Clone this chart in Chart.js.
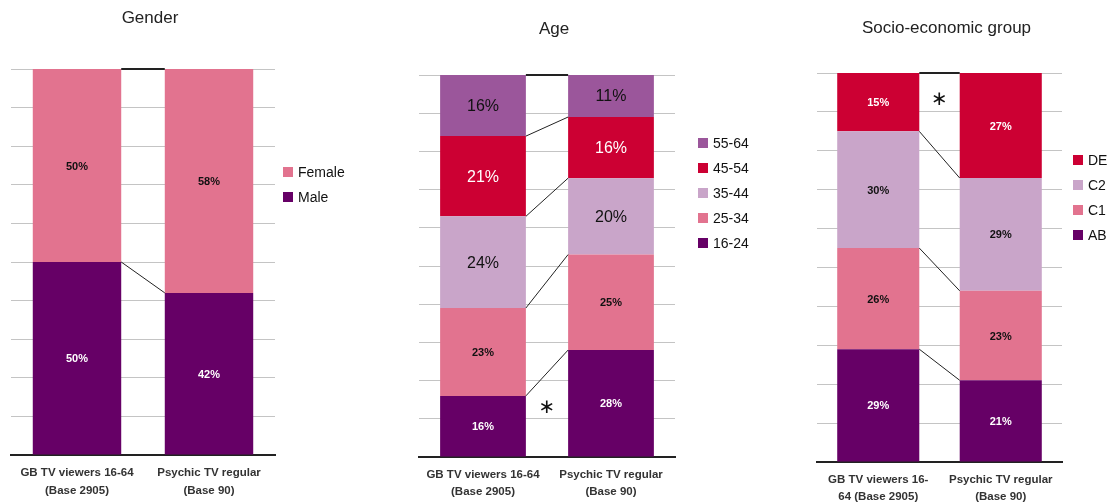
<!DOCTYPE html>
<html>
<head>
<meta charset="utf-8">
<script src="https://cdn.jsdelivr.net/npm/chart.js@4/dist/chart.umd.min.js"></script>
<style>
  body { margin: 0; background: #fff; width: 1113px; height: 504px; position: relative; overflow: hidden; }
  canvas { position: absolute; top: 0; }
</style>
</head>
<body>
<canvas id="genderChart" width="370" height="504" style="left:0"></canvas>
<canvas id="ageChart" width="380" height="504" style="left:370px"></canvas>
<canvas id="segChart" width="363" height="504" style="left:750px"></canvas>
<script>
// categories
const groups = [['GB TV viewers 16-64', '(Base 2905)'], ['Psychic TV regular', '(Base 90)']];
const groupsSeg = [['GB TV viewers 16-', '64 (Base 2905)'], ['Psychic TV regular', '(Base 90)']];

// series, bottom of the stack first
const genderLabels = ['Male', 'Female'];
const genderGB = [50, 50];
const genderPsychic = [42, 58];

const ageLabels = ['16-24', '25-34', '35-44', '45-54', '55-64'];
const ageGB = [16, 23, 24, 21, 16];
const agePsychic = [28, 25, 20, 16, 11];

const segLabels = ['AB', 'C1', 'C2', 'DE'];
const segGB = [29, 26, 30, 15];
const segPsychic = [21, 23, 29, 27];

// significance markers (value position between the two bars)
const ageStar = 13;
const segStar = 93;

const PURPLE = '#660066', PINK = '#e2738f', LILAC = '#c9a5c9', RED = '#cc0033', MAUVE = '#9b569b';
const SMALL = 'bold 11px "Liberation Sans", Arial, sans-serif';
const BIG = '16px "Liberation Sans", Arial, sans-serif';

function makeSets(labels, gb, psy, colors, txtColors, fonts) {
  return labels.map((l, i) => ({
    label: l,
    data: [gb[i], psy[i]],
    backgroundColor: colors[i],
    labelColor: txtColors[i],
    labelFont: fonts[i]
  }));
}

const extras = {
  id: 'extras',
  afterDatasetsDraw(chart, args, opts) {
    const ctx = chart.ctx;
    const sets = chart.data.datasets;
    const metas = sets.map((d, i) => chart.getDatasetMeta(i));
    ctx.save();
    // connectors between the two bars
    ctx.strokeStyle = '#222';
    metas.forEach((m, i) => {
      const a = m.data[0], b = m.data[1];
      ctx.lineWidth = i === metas.length - 1 ? 2 : 1;
      ctx.beginPath();
      ctx.moveTo(a.x + a.width / 2, a.y);
      ctx.lineTo(b.x - b.width / 2, b.y);
      ctx.stroke();
    });
    // value labels
    ctx.textAlign = 'center';
    ctx.textBaseline = 'middle';
    sets.forEach((ds, i) => {
      ctx.fillStyle = ds.labelColor;
      ctx.font = ds.labelFont;
      metas[i].data.forEach((el, j) => {
        ctx.fillText(ds.data[j] + '%', el.x, (el.y + el.base) / 2 + 1);
      });
    });
    // star
    if (opts.star != null) {
      const x = (chart.scales.x.getPixelForValue(0) + chart.scales.x.getPixelForValue(1)) / 2;
      ctx.fillStyle = '#111';
      ctx.font = '20px "DejaVu Sans", sans-serif';
      ctx.fillText('\u2217', x, chart.scales.y.getPixelForValue(opts.star));
    }
    // legend, top of the stack first
    ctx.textAlign = 'left';
    ctx.font = '14px "Liberation Sans", Arial, sans-serif';
    const order = sets.map((d, i) => i).reverse();
    order.forEach((i, k) => {
      const y = opts.legendY + k * 25;
      ctx.fillStyle = sets[i].backgroundColor;
      ctx.fillRect(opts.legendX, y - 5, 10, 10);
      ctx.fillStyle = '#111';
      ctx.fillText(sets[i].label, opts.legendX + 15, y + 1);
    });
    ctx.restore();
  }
};

function build(id, title, cats, datasets, pad, titlePad, axisH, tickPad, extraOpts) {
  new Chart(document.getElementById(id), {
    type: 'bar',
    data: { labels: cats, datasets: datasets },
    plugins: [extras],
    options: {
      responsive: false,
      animation: false,
      layout: { padding: pad },
      datasets: { bar: { barPercentage: 0.67, categoryPercentage: 1 } },
      scales: {
        x: {
          stacked: true,
          afterFit: s => { s.height = axisH; },
          grid: { display: false, drawTicks: false },
          border: { color: '#222', width: 2 },
          ticks: {
            color: '#333', padding: tickPad, maxRotation: 0,
            font: { family: '"Liberation Sans", Arial, sans-serif', size: 11.5, weight: 'bold', lineHeight: 1.5 }
          }
        },
        y: {
          stacked: true, position: 'right', min: 0, max: 100,
          afterFit: s => { s.width = 14; },
          ticks: { display: false, stepSize: 10 },
          grid: { color: '#c4c4c4', lineWidth: 1, drawTicks: false },
          border: { display: false }
        }
      },
      plugins: {
        legend: { display: false },
        tooltip: { enabled: false },
        title: {
          display: true, text: title, color: '#222',
          font: { family: '"Liberation Sans", Arial, sans-serif', size: 17, weight: 'normal' },
          padding: titlePad
        },
        extras: extraOpts
      }
    }
  });
}

build('genderChart', 'Gender', groups,
  makeSets(genderLabels, genderGB, genderPsychic, [PURPLE, PINK], ['#fff', '#111'], [SMALL, SMALL]),
  { left: 11, right: 81, top: 0, bottom: 0 }, { top: 8, bottom: 40.6 }, 49, 9.5,
  { legendX: 283, legendY: 172 });

build('ageChart', 'Age', groups,
  makeSets(ageLabels, ageGB, agePsychic, [PURPLE, PINK, LILAC, RED, MAUVE],
    ['#fff', '#111', '#111', '#fff', '#111'], [SMALL, SMALL, BIG, BIG, BIG]),
  { left: 49, right: 61, top: 0, bottom: 0 }, { top: 19, bottom: 35.6 }, 47, 9,
  { legendX: 328, legendY: 143, star: ageStar });

build('segChart', 'Socio-economic group', groupsSeg,
  makeSets(segLabels, segGB, segPsychic, [PURPLE, PINK, LILAC, RED],
    ['#fff', '#111', '#111', '#fff'], [SMALL, SMALL, SMALL, SMALL]),
  { left: 67, right: 37, top: 0, bottom: 0 }, { top: 18, bottom: 34.6 }, 42, 9,
  { legendX: 323, legendY: 160, star: segStar });
</script>
</body>
</html>
